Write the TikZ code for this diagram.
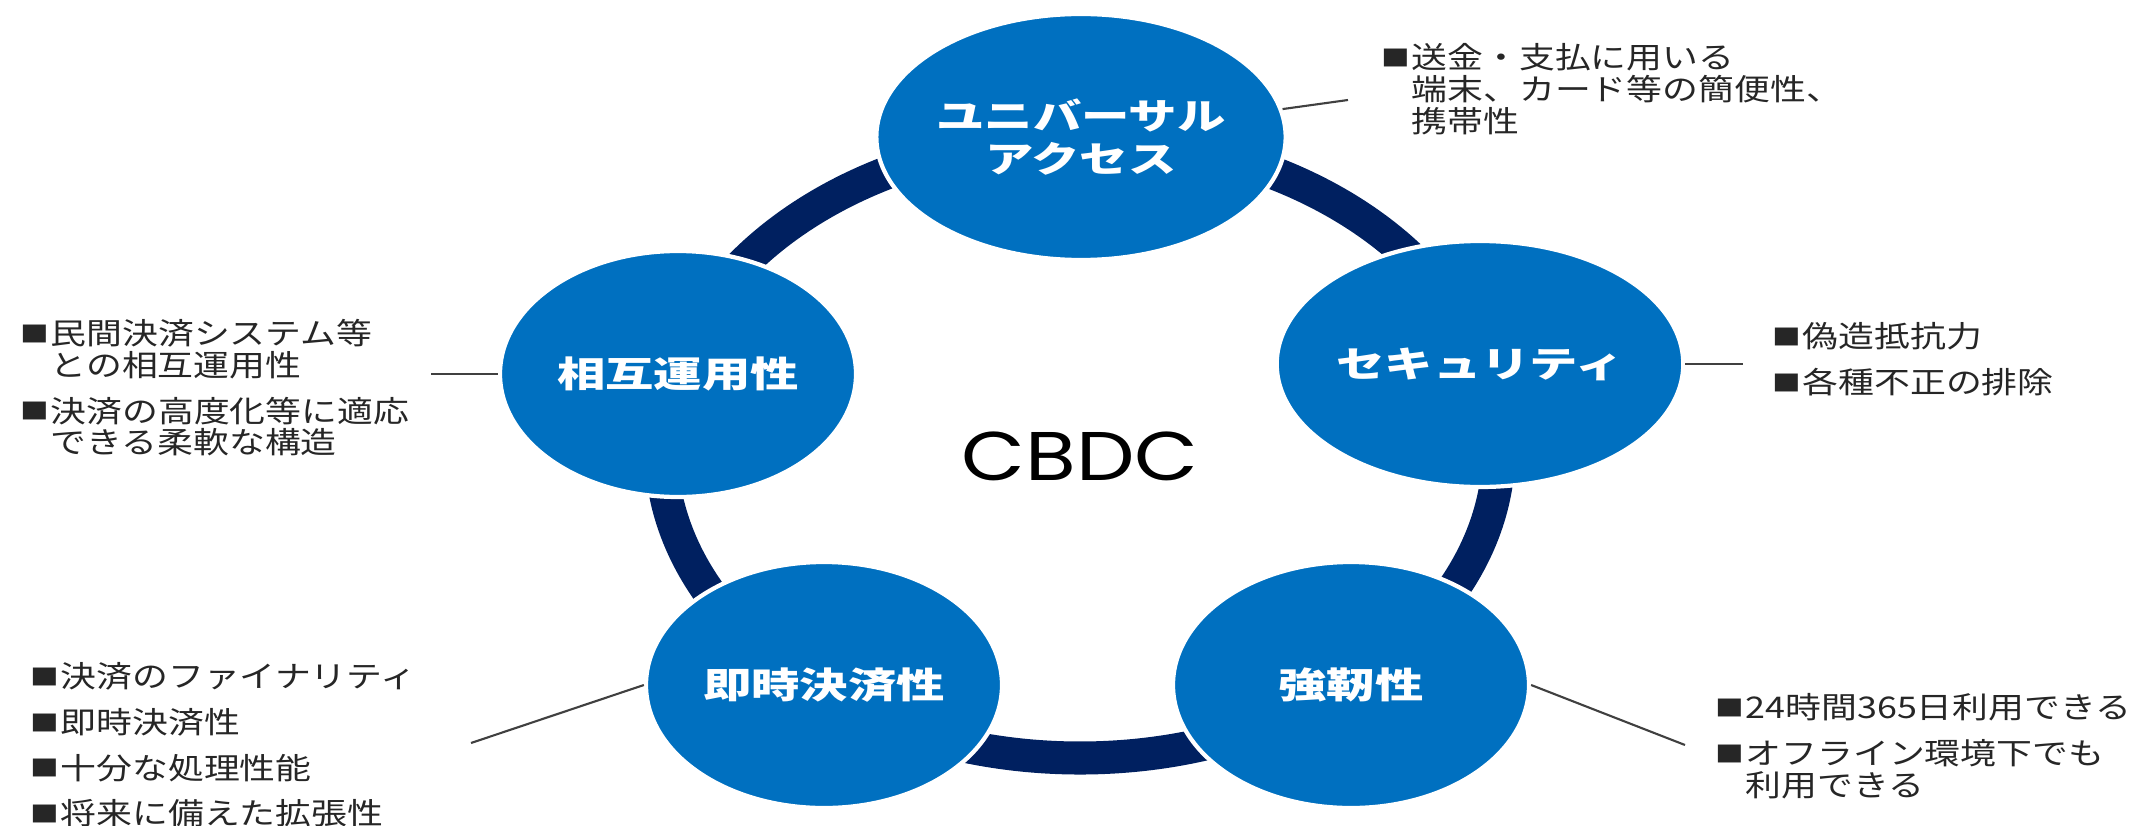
\documentclass[tikz,border=0pt]{standalone}
\usepackage{fontspec}
\usepackage{graphicx}
\usetikzlibrary{shapes.geometric}

\newfontfamily\jpfont[FakeStretch=1.2]{Noto Sans CJK JP}
\newfontfamily\jplabel[FakeStretch=1.35]{Noto Sans CJK JP}
\newfontfamily\cbdcfont[FakeStretch=1.2]{Poppins}

\definecolor{cbblue}{RGB}{0,112,192}
\definecolor{cbnavy}{RGB}{0,32,96}
\definecolor{ink}{RGB}{38,38,38}
\definecolor{leadgray}{RGB}{64,64,64}

% bullet square and the indent of a continued line
\newcommand{\bul}{\makebox[0.30cm][l]{\raisebox{0.08em}{\scalebox{0.8}[0.75]{■}}}}
\newcommand{\ind}{\hspace*{0.30cm}}

\tikzset{
	feature/.style={ellipse, fill=cbblue, draw=white, line width=1.2pt,
		minimum width=3.56cm, minimum height=2.46cm, inner sep=0pt,
		text=white, align=center, font=\jplabel\bfseries\fontsize{10.2}{12}\selectfont},
	ring/.style={draw=cbnavy, line width=9.4pt},
	lead/.style={draw=leadgray, line width=0.6pt},
	notes/.style={anchor=north west, inner sep=0pt, align=left, text=ink,
		font=\jpfont\fontsize{8.5}{9}\selectfont},
}

\begin{document}
\begin{tikzpicture}
	\useasboundingbox (0,0) rectangle (21.54,-8.26);

	% the cycle behind the five features
	\draw[ring] (10.80,-4.48) ellipse (4.19 and 3.10);

	\node[feature] (univ) at (10.81,-1.37) {ユニバーサル\\アクセス};
	\node[feature] (secu) at (14.80,-3.64) {セキュリティ};
	\node[feature] (resil) at (13.51,-6.85) {強靭性};
	\node[feature] (instant) at (8.24,-6.85) {即時決済性};
	\node[feature] (inter) at (6.78,-3.74) {相互運用性};

	\node[font=\cbdcfont\fontsize{19.6}{22}\selectfont] (cbdc) at (10.80,-4.56) {CBDC};

	% notes beside each feature
	\node[notes] (univ-notes) at (13.81,-0.43) {\bul 送金・支払に用いる\\\ind 端末、カード等の簡便性、\\\ind 携帯性};
	\node[notes] (secu-notes) at (17.72,-3.22) {\bul 偽造抵抗力\\[4pt]\bul 各種不正の排除};
	\node[notes] (resil-notes) at (17.15,-6.93) {\bul 24時間365日利用できる\\[4pt]\bul オフライン環境下でも\\\ind 利用できる};
	\node[notes] (instant-notes) at (0.30,-6.62) {\bul 決済のファイナリティ\\[4pt]\bul 即時決済性\\[4pt]\bul 十分な処理性能\\[4pt]\bul 将来に備えた拡張性};
	\node[notes] (inter-notes) at (0.20,-3.19) {\bul 民間決済システム等\\\ind との相互運用性\\[4pt]\bul 決済の高度化等に適応\\\ind できる柔軟な構造};

	\coordinate (univ-tip) at (13.48,-1.00);
	\coordinate (secu-tip) at (17.43,-3.64);
	\coordinate (resil-tip) at (16.85,-7.45);
	\coordinate (instant-tip) at (4.71,-7.43);
	\coordinate (inter-tip) at (4.31,-3.74);

	\draw[lead] (univ) -- (univ-tip);
	\draw[lead] (secu.east) -- (secu-tip);
	\draw[lead] (resil.east) -- (resil-tip);
	\draw[lead] (instant.west) -- (instant-tip);
	\draw[lead] (inter.west) -- (inter-tip);
\end{tikzpicture}
\end{document}
